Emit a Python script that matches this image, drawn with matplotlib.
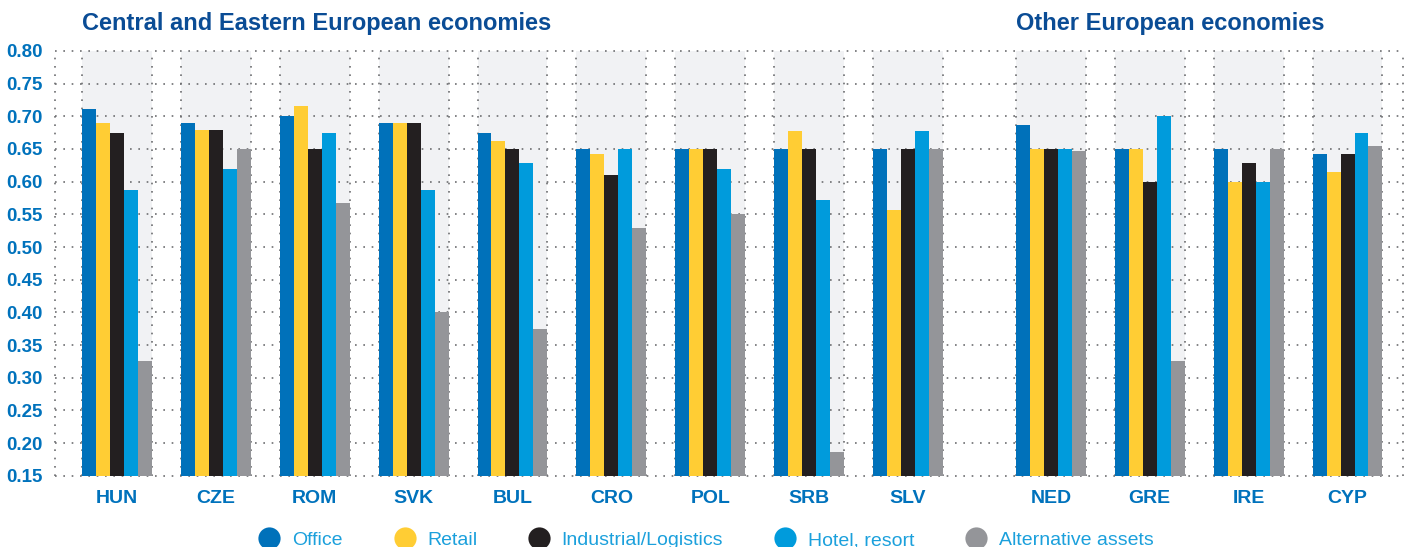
import matplotlib
matplotlib.use("Agg")
import matplotlib.pyplot as plt
import matplotlib.transforms as mtransforms
from matplotlib.lines import Line2D
import numpy as np

# data
countries = ["HUN", "CZE", "ROM", "SVK", "BUL", "CRO", "POL", "SRB", "SLV",
             "NED", "GRE", "IRE", "CYP"]
office = [0.711, 0.690, 0.700, 0.690, 0.675, 0.650, 0.650, 0.650, 0.650,
          0.687, 0.650, 0.650, 0.642]
retail = [0.690, 0.679, 0.716, 0.690, 0.662, 0.642, 0.650, 0.678, 0.557,
          0.650, 0.650, 0.600, 0.615]
industrial = [0.675, 0.679, 0.650, 0.690, 0.650, 0.610, 0.650, 0.650, 0.650,
              0.650, 0.600, 0.629, 0.642]
hotel = [0.587, 0.619, 0.675, 0.587, 0.629, 0.650, 0.619, 0.572, 0.678,
         0.650, 0.700, 0.600, 0.675]
alternative = [0.326, 0.650, 0.567, 0.400, 0.375, 0.529, 0.550, 0.186, 0.650,
               0.647, 0.326, 0.650, 0.655]
series_names = ["Office", "Retail", "Industrial/Logistics", "Hotel, resort", "Alternative assets"]
series_colors = ["#0071BA", "#FFCD34", "#231F20", "#009BDC", "#949599"]
y_ticks = [0.15, 0.20, 0.25, 0.30, 0.35, 0.40, 0.45, 0.50, 0.55, 0.60, 0.65, 0.70, 0.75, 0.80]

series = [office, retail, industrial, hotel, alternative]

# group positions: 9 CEE economies, then a gap, 4 other economies
pos = np.array(list(range(9)) + [9.446 + i for i in range(4)])
band_half = 0.3535
bar_w = 2 * band_half / 5

tick_blue = "#0072BC"
title_blue = "#0A4C95"
grid_col = "#6D6E71"

fig = plt.figure(figsize=(14.12, 5.47), dpi=100)
ax = fig.add_axes([0.03895, 0.1303, 0.9546, 0.7765])

ax.set_xlim(-0.627, 13.006)
ax.set_ylim(0.15, 0.80)

# light grey background bands
for p in pos:
    ax.axvspan(p - band_half, p + band_half, color="#F1F2F4", zorder=0, lw=0)

# dotted grid
for y in y_ticks:
    ax.axhline(y, color=grid_col, lw=1.2, ls=(0, (1, 4)), zorder=1, clip_on=False)
for p in pos:
    for e in (p - band_half, p + band_half):
        ax.axvline(e, color=grid_col, lw=1.2, ls=(0, (1, 4)), zorder=1)
for e in ax.get_xlim():
    ax.axvline(e, color=grid_col, lw=1.2, ls=(0, (1, 4)), zorder=1, clip_on=False)

# bars
for i, (vals, col) in enumerate(zip(series, series_colors)):
    x = pos - band_half + bar_w * (i + 0.5)
    ax.bar(x, vals, width=bar_w, color=col, zorder=2, lw=0)

for s in ax.spines.values():
    s.set_visible(False)

ax.set_yticks(y_ticks)
ax.set_yticklabels([f"{v:.2f}" for v in y_ticks])
ax.set_xticks(pos)
ax.set_xticklabels(countries)
ax.tick_params(axis="both", length=0, colors=tick_blue)
ax.tick_params(axis="y", pad=9, labelsize=13.5)
ax.tick_params(axis="x", pad=10, labelsize=14)
for lab in ax.get_xticklabels() + ax.get_yticklabels():
    lab.set_fontweight("bold")
    lab.set_family("Liberation Sans")

# section titles
trans = mtransforms.blended_transform_factory(ax.transData, ax.transAxes)
ax.text(pos[0] - band_half, 1.064, "Central and Eastern European economies", transform=trans,
        ha="left", va="center", fontsize=17, fontweight="bold", color=title_blue,
        family="Liberation Sans")
ax.text(pos[9] - band_half, 1.064, "Other European economies", transform=trans,
        ha="left", va="center", fontsize=17, fontweight="bold", color=title_blue,
        family="Liberation Sans")

# legend
handles = [Line2D([0], [0], marker="o", ls="", markersize=16, markerfacecolor=c,
                  markeredgewidth=0) for c in series_colors]
leg = fig.legend(handles, series_names, loc="center", bbox_to_anchor=(0.497, 0.012),
                 ncol=5, frameon=False, handletextpad=0.15, columnspacing=2.2,
                 prop={"family": "Liberation Sans", "size": 14})
for t in leg.get_texts():
    t.set_color("#1BA0DC")

fig.savefig("out.png", dpi=100)
